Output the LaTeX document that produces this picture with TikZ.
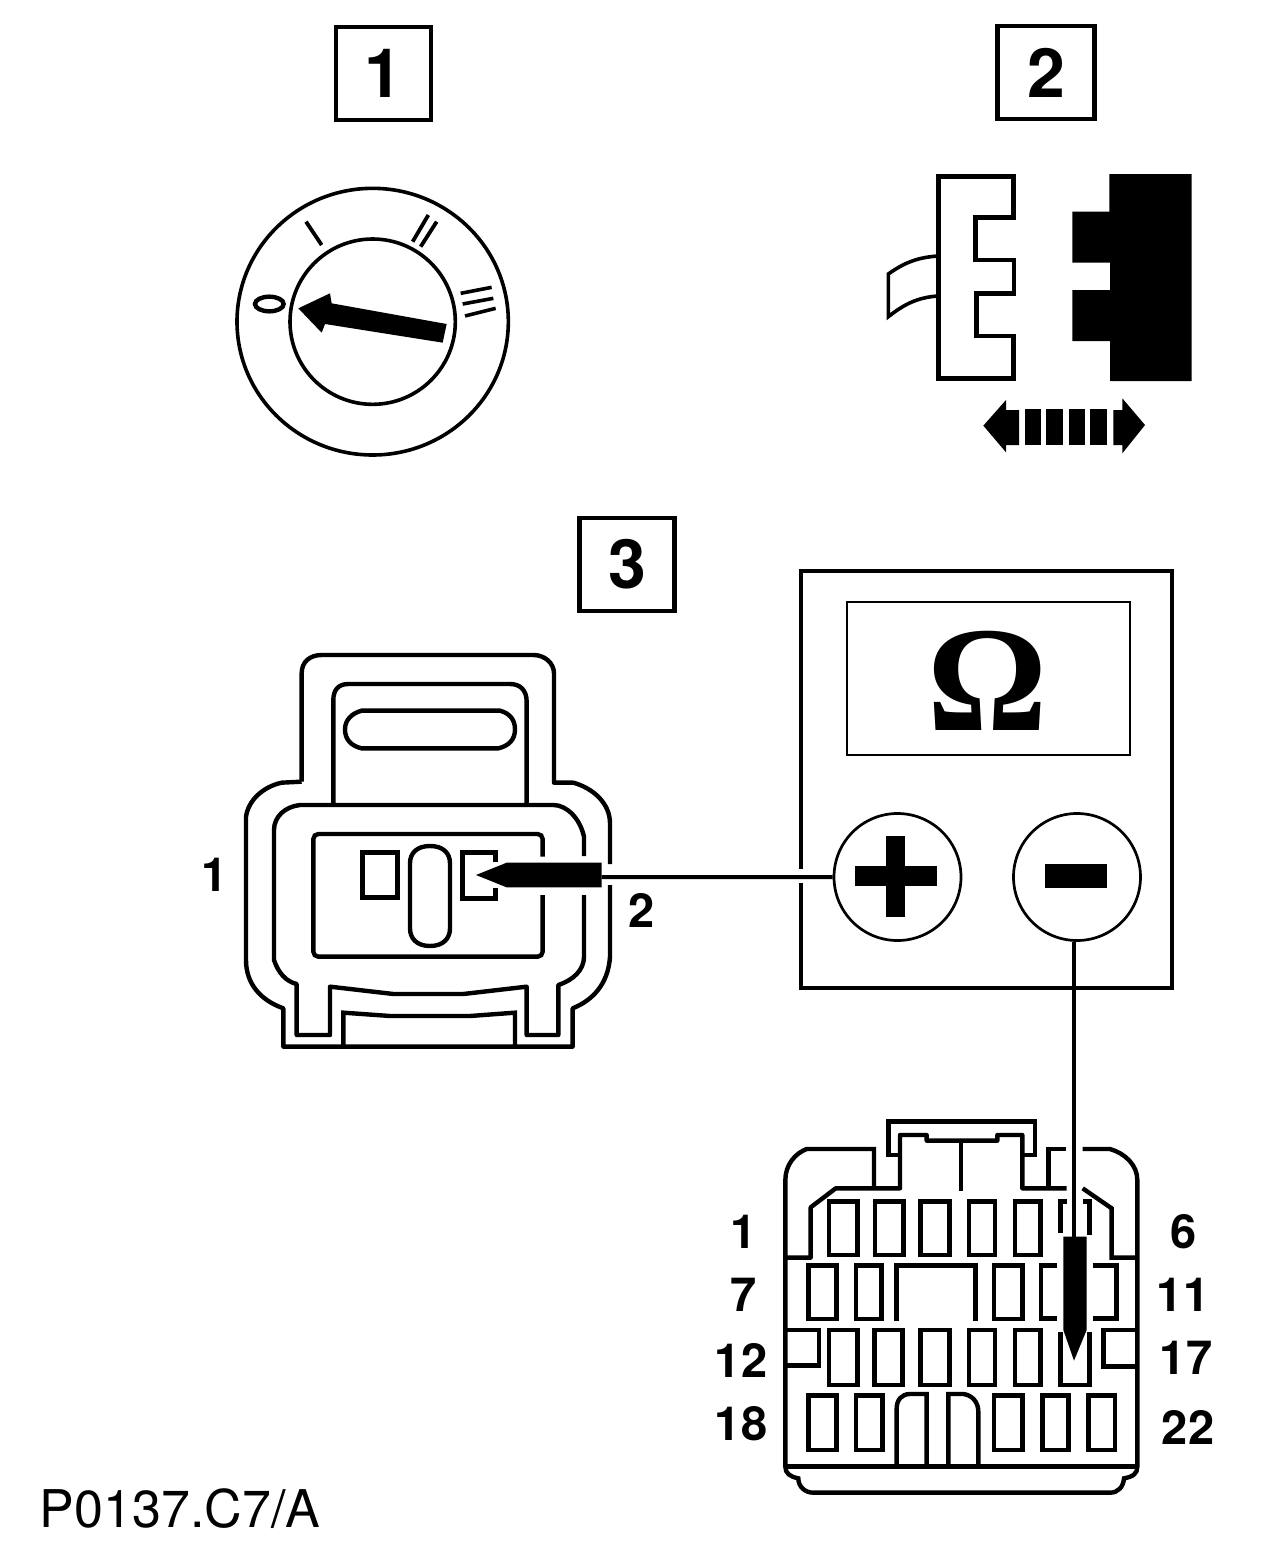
\documentclass[tikz,border=0pt]{standalone}
\usepackage{fontspec}
\setmainfont{TeX Gyre Heros}
\newfontfamily\omfont{Liberation Serif}
\tikzset{
  ln/.style={line width=4.4pt,line join=miter,black},
  thin ln/.style={line width=2.7pt,black},
  wire/.style={line width=4pt,black},
  numbox/.style={draw=black,line width=4.6pt,minimum width=95pt,minimum height=93pt,inner sep=0pt,font=\fontsize{68}{68}\selectfont\bfseries},
  pinlabel/.style={inner sep=0pt,font=\fontsize{47}{47}\selectfont\bfseries},
  term/.style={circle,draw=black,line width=2.7pt,minimum size=127pt,inner sep=0pt},
  zoomed/.style={x=0.33333pt,y=-0.33333pt},
}
\begin{document}
\begin{tikzpicture}[x=1pt,y=-1pt]
\fill[white] (0,0) rectangle (1280,1558);
\useasboundingbox (0,0) rectangle (1280,1558);

% numbered boxes
\node[numbox] (b1) at (383.5,73.5) {1};
\node[numbox,minimum width=97pt] (b2) at (1046,72.5) {2};
\node[numbox] (b3) at (627,564.5) {3};

% dial
\begin{scope}[shift={(220,170)},zoomed]
  \draw[thin ln,line width=3.6pt] (458,455) ellipse [x radius=407,y radius=400];
  \draw[thin ln,line width=3.6pt] (458,455) circle [radius=248];
  \fill (235,415) -- (330,370) -- (335,400) -- (680,462) -- (668,518) -- (315,462) -- (305,488) -- cycle;
  \draw[ln,line width=3.8pt] (258,155) -- (305,225);
  \draw[ln,line width=3.8pt] (578,215) -- (625,135) (602,230) -- (650,155);
  \draw[ln,line width=3.6pt] (722,370) -- (815,352) (728,402) -- (820,385) (735,438) -- (827,415);
  \draw[ln,line width=4.4pt] (148,402) ellipse [x radius=43,y radius=22];
\end{scope}

% plug pair
\begin{scope}[shift={(870,160)},zoomed]
  \draw[ln] (205,50) -- (430,50) -- (430,172) -- (317,172) -- (317,300) -- (432,300) -- (432,400) -- (320,400) -- (320,528) -- (430,528) -- (430,655) -- (205,655) -- cycle;
  \draw[ln,line width=3.6pt] (205,288) .. controls (140,292) and (100,310) .. (55,342) -- (55,470) .. controls (100,435) and (140,412) .. (205,408);
  \fill (718,42) -- (965,42) -- (965,663) -- (720,663) -- (720,543) -- (607,543) -- (607,390) -- (720,390) -- (720,308) -- (607,308) -- (607,155) -- (718,155) -- cycle;
  \fill (340,797) -- (408,720) -- (408,750) -- (447,750) -- (447,855) -- (408,855) -- (408,877) -- cycle;
  \fill (465,748) rectangle (513,855);
  \fill (528,748) rectangle (578,855);
  \fill (597,748) rectangle (645,855);
  \fill (660,748) rectangle (710,855);
  \fill (730,750) -- (757,750) -- (757,715) -- (825,795) -- (757,880) -- (757,855) -- (730,855) -- cycle;
\end{scope}

% meter
\draw[ln] (801,571) rectangle (1172,988);
\draw[thin ln] (847,602) rectangle (1130,755);
\node[inner sep=0pt,font=\omfont\bfseries\fontsize{150}{150}\selectfont] (ohm) at (987.5,680.5) {Ω};
\fill[white] (798,869) rectangle (806,883);
\node[term] (plus) at (897.5,877) {};
\node[term] (minus) at (1077,877) {};
\fill (855,866) rectangle (937,886);
\fill (886,836) rectangle (905,917);
\fill (1045,864) rectangle (1107,888);

% left connector
\begin{scope}[shift={(230,640)},zoomed]
  \draw[ln,line join=round] (215,425) -- (215,100) .. controls (215,65) and (240,45) .. (275,45) -- (910,45) .. controls (945,45) and (972,70) .. (972,100) -- (972,428) -- (1030,428) .. controls (1090,445) and (1140,490) .. (1140,550) -- (1140,672);
  \draw[ln,line join=round] (1140,735) -- (1140,950) .. controls (1135,1030) and (1090,1080) .. (1028,1105) -- (1028,1220) -- (160,1220) -- (160,1105) .. controls (90,1080) and (48,1030) .. (48,960) -- (48,530) .. controls (55,480) and (100,440) .. (155,428) -- (215,425);
  \draw[ln,line join=round] (310,490) -- (310,180) .. controls (310,150) and (325,132) .. (355,132) -- (840,132) .. controls (870,132) and (890,150) .. (890,185) -- (890,490);
  \draw[ln] (395,212) -- (810,212) .. controls (840,220) and (855,240) .. (855,268) .. controls (855,300) and (835,318) .. (805,325) -- (395,325) .. controls (365,318) and (345,300) .. (345,268) .. controls (345,240) and (365,220) .. (395,212) -- cycle;
  \draw[ln,line join=round] (1062,648) -- (1062,590) .. controls (1050,535) and (1010,495) .. (970,495) -- (210,495) .. controls (165,500) and (132,530) .. (132,570) -- (132,960) .. controls (145,1000) and (170,1025) .. (200,1032) -- (200,1185) -- (300,1185) -- (300,1040) -- (490,1062) -- (700,1062) -- (890,1040) -- (890,1185) -- (985,1185) -- (985,1035) .. controls (1030,1020) and (1062,990) .. (1062,950) -- (1062,765);
  \draw[ln] (340,1215) -- (340,1118) -- (480,1128) -- (720,1128) -- (855,1118) -- (855,1215);
  \draw[ln,rounded corners=5pt] (938,650) -- (938,582) -- (250,582) -- (250,950) -- (938,950) -- (938,765);
  \draw[ln] (397,637) rectangle (503,772);
  \draw[ln] (600,618) .. controls (640,618) and (660,640) .. (660,670) -- (660,865) .. controls (660,895) and (640,918) .. (600,918) .. controls (560,918) and (540,895) .. (540,865) -- (540,670) .. controls (540,640) and (560,618) .. (600,618) -- cycle;
  \draw[ln] (797,665) -- (797,637) -- (697,637) -- (697,775) -- (797,775) -- (797,745);
  \fill (738,705) -- (830,668) -- (1115,668) -- (1115,742) -- (830,742) -- cycle;
  \coordinate (probeA) at (1115,711);
\end{scope}
\draw[wire] (probeA) -- (plus.west);

% right connector
\begin{scope}[shift={(770,1100)},zoomed]
  \draw[ln,line join=round] (46,473) -- (122,473) -- (122,322) -- (197,265) -- (390,265) -- (390,105) -- (470,105) -- (470,122) -- (682,122) -- (682,105) -- (757,105) -- (757,265) -- (890,265);
  \draw[ln] (938,265) -- (1025,325) -- (1025,473) -- (1102,473);
  \draw[ln] (390,165) -- (355,165) -- (355,65) -- (795,65) -- (795,165) -- (757,165);
  \draw[ln] (573,122) -- (573,272);
  \draw[ln] (312,262) -- (312,147) -- (110,147) .. controls (75,160) and (46,195) .. (46,240) -- (46,1100) .. controls (46,1120) and (60,1130) .. (85,1135) .. controls (85,1160) and (105,1178) .. (130,1178) -- (1020,1178) .. controls (1045,1178) and (1060,1160) .. (1062,1135) .. controls (1090,1130) and (1102,1120) .. (1102,1100) -- (1102,240) .. controls (1102,195) and (1065,160) .. (1020,147) -- (938,147);
  \draw[ln] (888,147) -- (835,147) -- (835,262);
  \draw[ln] (46,1100) -- (1102,1100);
  % row 1
  \draw[ln] (177,305) rectangle (262,465);
  \draw[ln] (315,305) rectangle (400,465);
  \draw[ln] (452,305) rectangle (538,465);
  \draw[ln] (597,305) rectangle (675,465);
  \draw[ln] (735,305) rectangle (812,465);
  \draw[ln] (872,400) -- (872,305) -- (890,305);
  \draw[ln] (938,305) -- (958,305) -- (958,405);
  % row 2
  \draw[ln] (115,497) rectangle (200,657);
  \draw[ln] (258,497) rectangle (335,657);
  \draw[ln] (380,662) -- (380,497) -- (617,497) -- (617,662);
  \draw[ln] (672,497) rectangle (757,657);
  \draw[ln] (862,497) -- (813,497) -- (813,655) -- (862,655);
  \draw[ln] (968,497) -- (1040,497) -- (1040,655) -- (970,655);
  % row 3
  \draw[ln] (48,690) -- (147,690) -- (147,797) -- (48,797);
  \draw[ln] (177,690) rectangle (262,855);
  \draw[ln] (313,690) rectangle (398,855);
  \draw[ln] (452,690) rectangle (538,855);
  \draw[ln] (597,690) rectangle (675,855);
  \draw[ln] (735,690) rectangle (812,855);
  \draw[ln] (872,695) -- (872,855) -- (958,855) -- (958,695);
  \draw[ln] (1100,690) -- (1000,690) -- (1000,800) -- (1100,800);
  % row 4
  \draw[ln] (115,887) rectangle (200,1050);
  \draw[ln] (258,887) rectangle (338,1050);
  \draw[ln] (380,1100) -- (380,925) .. controls (380,900) and (395,882) .. (420,882) -- (470,882) -- (470,1100);
  \draw[ln] (535,1100) -- (535,882) -- (580,882) .. controls (605,885) and (625,905) .. (625,935) -- (625,1100);
  \draw[ln] (672,887) rectangle (757,1050);
  \draw[ln] (817,887) rectangle (895,1050);
  \draw[ln] (955,887) rectangle (1035,1050);
  % probe
  \fill (880,410) -- (950,410) -- (950,690) -- (912,782) -- (880,690) -- cycle;
  \coordinate (probeB) at (913,410);
\end{scope}
\draw[wire] (probeB) -- (probeB |- minus.south);

% labels
\node[pinlabel] (la1) at (215,875) {1};
\node[pinlabel] (la2) at (642,910) {2};
\node[pinlabel] (r1) at (744,1232) {1};
\node[pinlabel] (r6) at (1184,1232) {6};
\node[pinlabel] (r7) at (744,1295) {7};
\node[pinlabel] (r11) at (1183,1295) {11};
\node[pinlabel] (r12) at (741,1360) {12};
\node[pinlabel] (r17) at (1186,1358) {17};
\node[pinlabel] (r18) at (741,1424) {18};
\node[pinlabel] (r22) at (1188,1427) {22};
\node[inner sep=0pt,font=\fontsize{52}{52}\selectfont] (code) at (180,1509) {P0137.C7/A};
\end{tikzpicture}
\end{document}
